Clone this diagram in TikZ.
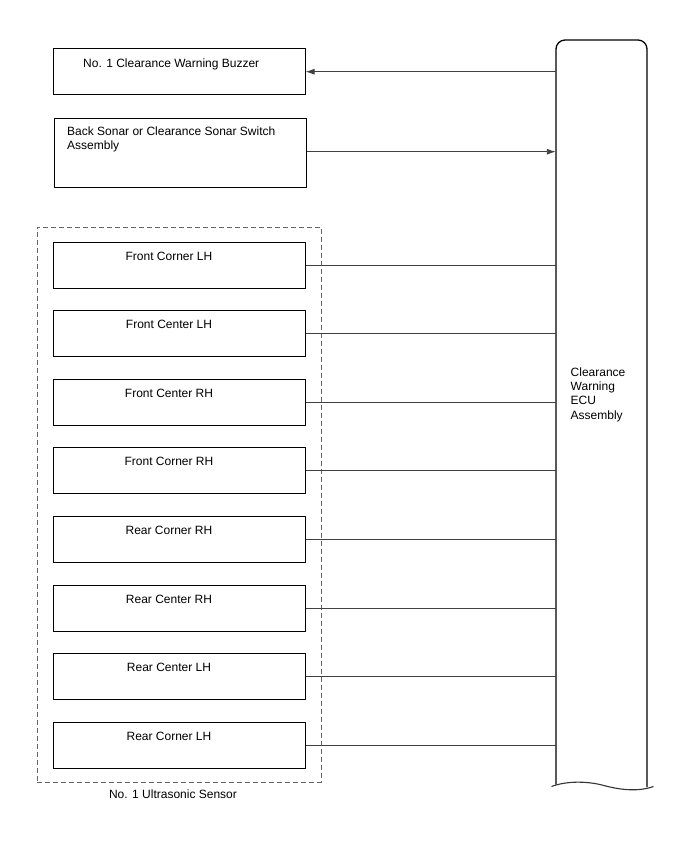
\documentclass[tikz,border=0pt]{standalone}
\usepackage{fontspec}
\setmainfont{Liberation Sans}
\usetikzlibrary{arrows.meta}
\begin{document}
\begin{tikzpicture}[x=1pt,y=-1pt,
  box/.style={draw=black, line width=1pt, minimum width=252pt, inner sep=0pt},
  sensorbox/.style={box, minimum height=46pt},
  txt/.style={inner sep=0pt, font=\fontsize{12}{14.2}\selectfont, text=black},
  conn/.style={draw=black!75, line width=0.9pt},
  tip/.style={-{Latex[length=9pt,width=6pt]}}]
\useasboundingbox (0,0) rectangle (688,852);

% ECU
\node[inner sep=0pt, minimum width=91pt, minimum height=746pt] (ecu) at (601.5,413) {};
\draw[line width=1.3pt, rounded corners=9pt] (556,784.5) -- (556,40) -- (647,40) -- (647,787);
\draw[line width=1.1pt, black!80] (551.5,786.5) .. controls (566,781) and (586,781) .. (602,785)
  .. controls (620,790) and (638,792) .. (653.5,786.5);
\node[txt, anchor=north west, align=left] (ecutxt) at (570.5,367.5) {Clearance\\Warning\\ECU\\Assembly};

% Buzzer
\node[box, minimum height=46pt] (buzz) at (179,71) {};
\node[txt, anchor=base west] (buzztxt) at (83,67) {No. 1 Clearance Warning Buzzer};

% Sonar switch
\node[box, minimum height=69pt] (sonar) at (180,152.5) {};
\node[txt, anchor=north west, align=left] (sonartxt) at (67,126.5) {Back Sonar or Clearance Sonar Switch\\Assembly};

\draw[conn, tip] (ecu.west |- 0,71.7) -- (buzz.east |- 0,71.7);
\draw[conn, tip] (sonar.east |- 0,151.7) -- (ecu.west |- 0,151.7);

% Dashed group
\node[draw=black!60, line width=0.9pt, dash pattern=on 5pt off 3pt, minimum width=284pt, minimum height=555pt, inner sep=0pt] (grp) at (179,504.5) {};
\node[txt, anchor=base] (grptxt) at (173,798) {No. 1 Ultrasonic Sensor};

% Sensors
\foreach \i/\t in {0/Front Corner LH,1/Front Center LH,2/Front Center RH,3/Front Corner RH,4/Rear Corner RH,5/Rear Center RH,6/Rear Center LH,7/Rear Corner LH}{
  \pgfmathsetmacro{\top}{242+68.6*\i}
  \node[sensorbox] (s\i) at (179,\top+23) {};
  \node[txt, anchor=base] (st\i) at (169,\top+18) {\t};
  \draw[conn] (s\i.east) -- (s\i.east -| ecu.west);
}
\end{tikzpicture}
\end{document}
